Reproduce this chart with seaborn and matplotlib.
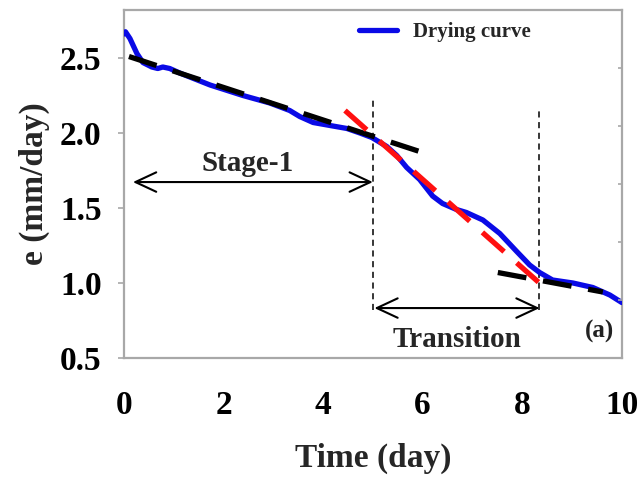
import numpy as np
import pandas as pd
import matplotlib
matplotlib.use("Agg")
import matplotlib.pyplot as plt
import seaborn as sns

# Measured drying curve: evaporation rate e (mm/day) versus time (day)
time_day = [0.00, 0.03, 0.12, 0.26, 0.38, 0.56, 0.68, 0.78, 0.92, 1.12,
            1.73, 2.39, 2.93, 3.33, 3.53, 3.80, 4.14, 4.48, 4.74, 4.98,
            5.28, 5.48, 5.68, 5.94, 6.20, 6.40, 6.68, 6.88, 7.21, 7.55,
            7.89, 8.15, 8.35, 8.61, 9.02, 9.42, 9.76, 10.00]
evap_rate = [2.66, 2.675, 2.63, 2.53, 2.47, 2.44, 2.43, 2.44, 2.43, 2.40,
             2.32, 2.25, 2.20, 2.15, 2.11, 2.07, 2.05, 2.03, 2.00, 1.97,
             1.91, 1.85, 1.77, 1.69, 1.58, 1.53, 1.49, 1.47, 1.42, 1.33,
             1.21, 1.12, 1.07, 1.02, 1.00, 0.97, 0.92, 0.87]

# Fitted straight segments (end points)
stage1_fit_x = [0.10, 6.00]
stage1_fit_y = [2.51, 1.87]
transition_fit_x = [4.44, 8.55]
transition_fit_y = [2.15, 0.94]
stage2_fit_x = [7.51, 9.62]
stage2_fit_y = [1.07, 0.94]

# Stage boundaries
stage1_end = 5.0
transition_end = 8.33

x_ticks = [0, 2, 4, 6, 8, 10]
y_ticks = [0.5, 1.0, 1.5, 2.0, 2.5]

sns.set_theme(style="white")
plt.rcParams["font.family"] = ["Liberation Serif", "DejaVu Serif"]
plt.rcParams["font.weight"] = "bold"

fig = plt.figure(figsize=(6.41, 4.79), dpi=100)
ax = fig.add_axes([0.1934, 0.2526, 0.7766, 0.7265])

df = pd.DataFrame({"Time (day)": time_day, "e (mm/day)": evap_rate})
sns.lineplot(data=df, x="Time (day)", y="e (mm/day)", ax=ax,
             color="#0a0ae6", linewidth=3.8, label="Drying curve",
             solid_capstyle="round", solid_joinstyle="round", zorder=3)

dash_thick = (0, (5.5, 3.2))
ax.plot(stage1_fit_x, stage1_fit_y, color="black", linewidth=3.8,
        linestyle=dash_thick, zorder=4)
ax.plot(transition_fit_x, transition_fit_y, color="#ff1010", linewidth=3.8,
        linestyle=dash_thick, zorder=4)
ax.plot(stage2_fit_x, stage2_fit_y, color="black", linewidth=3.8,
        linestyle=dash_thick, zorder=4)

# Stage boundary markers
ax.plot([stage1_end, stage1_end], [0.82, 2.23], color="black",
        linewidth=1.1, linestyle=(0, (4, 3)), zorder=2)
ax.plot([transition_end, transition_end], [0.82, 2.17], color="black",
        linewidth=1.1, linestyle=(0, (4, 3)), zorder=2)

arrow_kw = dict(arrowstyle="<->,head_length=0.75,head_width=0.35",
                color="black", lw=1.5, shrinkA=0, shrinkB=0,
                mutation_scale=20)
ax.annotate("", xy=(0.18, 1.673), xytext=(stage1_end, 1.673),
            arrowprops=arrow_kw)
ax.annotate("", xy=(5.03, 0.833), xytext=(8.35, 0.833),
            arrowprops=arrow_kw)

ax.text(2.49, 1.80, "Stage-1", ha="center", va="center",
        fontsize=21, fontweight="bold")
ax.text(6.7, 0.625, "Transition", ha="center", va="center",
        fontsize=21, fontweight="bold")
ax.text(9.55, 0.68, "(a)", ha="center", va="center",
        fontsize=18, fontweight="bold", color="#222222")

ax.set_xlim(0, 10)
ax.set_ylim(0.5, 2.82)
ax.set_xticks(x_ticks)
ax.set_yticks(y_ticks)
ax.set_xticklabels([str(t) for t in x_ticks])
ax.set_yticklabels([f"{t:.1f}" for t in y_ticks])

spine_col = "#a8a8a8"
for s in ax.spines.values():
    s.set_visible(True)
    s.set_color(spine_col)
    s.set_linewidth(1.6)

ax.tick_params(axis="both", which="major", direction="out", length=4,
               width=1.2, color=spine_col, labelsize=24, labelcolor="black")
ax.tick_params(axis="x", pad=19)
ax.tick_params(axis="y", pad=12)
for lab in ax.get_xticklabels() + ax.get_yticklabels():
    lab.set_fontweight("bold")

# Unlabelled inner ticks along the right frame
ax2 = ax.twinx()
ax2.set_ylim(0, 6)
ax2.set_yticks([0, 1, 2, 3, 4, 5])
ax2.set_yticklabels([])
ax2.tick_params(axis="y", direction="in", length=3, width=1.2,
                color=spine_col, right=True)
for s in ax2.spines.values():
    s.set_visible(False)
ax2.grid(False)

ax.set_xlabel("Time (day)", fontsize=24, fontweight="bold", labelpad=16)
ax.set_ylabel("e (mm/day)", fontsize=24, fontweight="bold", labelpad=7)

leg = ax.legend(loc="center", bbox_to_anchor=(0.645, 0.937), frameon=False,
                handlelength=1.8, handletextpad=0.8,
                prop={"family": "Liberation Serif", "weight": "bold",
                      "size": 15})

fig.savefig("out.png", dpi=100)
